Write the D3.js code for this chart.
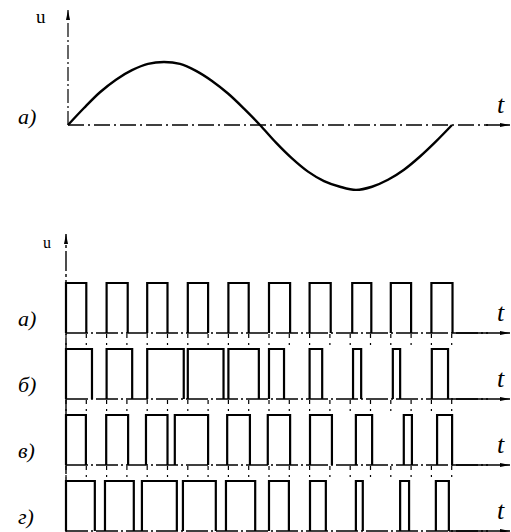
<!DOCTYPE html>
<html><head><meta charset="utf-8">
<script src="https://cdn.jsdelivr.net/npm/d3@7"></script>
<style>html,body{margin:0;padding:0;background:#fff;}svg{display:block;}</style>
</head><body>
<script>
// ---- data ----
// sine curve samples (phase in degrees, relative voltage)
const sinePhase = [0,15,30,45,60,75,90,105,120,135,150,165,180,195,210,225,240,255,270,285,300,315,330,345,360];
const sineValue = [0,0.27,0.52,0.72,0.87,0.97,1.0,0.97,0.86,0.70,0.50,0.26,0,-0.28,-0.53,-0.74,-0.89,-0.98,-1.03,-0.98,-0.87,-0.71,-0.50,-0.26,0];
// pulse trains: [start, end] in carrier periods
const rowLabels = ["а)","б)","в)","г)"];
const pulsesA = [[0,0.5],[1,1.52],[2,2.5],[3,3.5],[4,4.5],[5,5.52],[6,6.52],[7.05,7.52],[8,8.5],[9,9.52]];
const pulsesB = [[0,0.64],[1,1.63],[2,2.9],[3,3.88],[4,4.75],[5,5.37],[6,6.31],[7.07,7.27],[8.05,8.23],[9.01,9.41]];
const pulsesV = [[0,0.49],[0.99,1.53],[1.97,2.5],[2.68,3.5],[3.97,4.53],[4.97,5.52],[6.01,6.55],[7.14,7.54],[8.32,8.52],[9.14,9.51]];
const pulsesG = [[0,0.71],[0.96,1.67],[1.87,2.73],[2.88,3.69],[3.94,4.66],[5.0,5.49],[6.01,6.4],[7.14,7.31],[8.23,8.45],[9.11,9.43]];
const pulseRows = [pulsesA, pulsesB, pulsesV, pulsesG];
const gridTimes = [0,0.5,1,1.5,2,2.5,3,3.5,4,4.5,5,5.5,6,6.5,7,7.5,8,8.5,9,9.5];

const W = 511, H = 532;
const svg = d3.select("body").append("svg").attr("width", W).attr("height", H);
const defs = svg.append("defs");
defs.append("marker").attr("id","arr").attr("viewBox","0 0 10 6").attr("refX",10).attr("refY",3)
  .attr("markerWidth",12).attr("markerHeight",6).attr("markerUnits","userSpaceOnUse").attr("orient","auto")
  .append("path").attr("d","M0,1L10,3L0,5Z").attr("fill","#000");

const serif = "'Liberation Serif','DejaVu Serif',serif";

// ---- top chart ----
const xs = d3.scaleLinear().domain([0,360]).range([68,452]);
const ys = d3.scaleLinear().domain([-1,1]).range([188,62]);
const gTop = svg.append("g");
gTop.append("line").attr("x1",xs(0)).attr("x2",xs(0)).attr("y1",ys(0)).attr("y2",10)
  .attr("stroke","#000").attr("stroke-width",1.2).attr("stroke-dasharray","14,3,2,3").attr("marker-end","url(#arr)");
gTop.append("line").attr("x1",xs(0)).attr("x2",488).attr("y1",ys(0)).attr("y2",ys(0))
  .attr("stroke","#000").attr("stroke-width",1.3).attr("stroke-dasharray","16,4,2,4");
gTop.append("line").attr("x1",486).attr("x2",510).attr("y1",ys(0)).attr("y2",ys(0))
  .attr("stroke","#000").attr("stroke-width",1.5).attr("marker-end","url(#arr)");
const sinePts = sinePhase.map((p,i)=>[p,sineValue[i]]);
gTop.append("path").datum(sinePts)
  .attr("d", d3.line().x(d=>xs(d[0])).y(d=>ys(d[1])).curve(d3.curveCatmullRom))
  .attr("fill","none").attr("stroke","#000").attr("stroke-width",2.4);
gTop.append("text").attr("x",36).attr("y",23).text("u")
  .attr("font-family",serif).attr("font-size",19).attr("fill","#000");
gTop.append("text").attr("x",18).attr("y",124).text("а)")
  .attr("font-family",serif).attr("font-style","italic").attr("font-size",22).attr("fill","#000");
gTop.append("text").attr("x",497).attr("y",113).text("t")
  .attr("font-family",serif).attr("font-style","italic").attr("font-size",26).attr("fill","#000");

// ---- bottom chart ----
const xp = d3.scaleLinear().domain([0,10]).range([66,472]);
const rowBase = d3.scaleLinear().domain([0,3]).range([333,531]);
const lev = d3.scaleLinear().domain([0,1]).range([0,50]);
const gBot = svg.append("g");
// dash-dot construction lines in the gaps between rows
[0,1,2].forEach(r=>{
  gBot.selectAll(null).data(gridTimes).join("line")
    .attr("x1",d=>xp(d)).attr("x2",d=>xp(d))
    .attr("y1",rowBase(r)+1).attr("y2",rowBase(r+1)-lev(1)-1)
    .attr("stroke","#000").attr("stroke-width",1.2).attr("stroke-dasharray","4,5,2,8");
});
gBot.append("line").attr("x1",xp(0)).attr("x2",xp(0)).attr("y1",532).attr("y2",234)
  .attr("stroke","#000").attr("stroke-width",1.4).attr("stroke-dasharray","20,3,3,3").attr("marker-end","url(#arr)");
gBot.append("text").attr("x",43).attr("y",248).text("u")
  .attr("font-family",serif).attr("font-size",16).attr("fill","#000");

pulseRows.forEach((pulses,r)=>{
  const yb = rowBase(r), yt = rowBase(r) - lev(1);
  const g = gBot.append("g");
  g.append("line").attr("x1",xp(0)).attr("x2",488).attr("y1",yb).attr("y2",yb)
    .attr("stroke","#000").attr("stroke-width",1.5).attr("stroke-dasharray","22,3,2,3");
  g.append("line").attr("x1",xp(pulses[pulses.length-1][1])).attr("x2",510).attr("y1",yb).attr("y2",yb)
    .attr("stroke","#000").attr("stroke-width",1.6).attr("marker-end","url(#arr)");
  g.selectAll("path.p").data(pulses).join("path").attr("class","p")
    .attr("d",d=>`M${xp(d[0])},${yb}V${yt}H${xp(d[1])}V${yb}`)
    .attr("fill","none").attr("stroke","#000").attr("stroke-width",2.2).attr("stroke-linejoin","miter");
  g.append("text").attr("x",18).attr("y",yb-7).text(rowLabels[r])
    .attr("font-family",serif).attr("font-style","italic").attr("font-size",22).attr("fill","#000");
  g.append("text").attr("x",497).attr("y",yb-12).text("t")
    .attr("font-family",serif).attr("font-style","italic").attr("font-size",26).attr("fill","#000");
});
</script>
</body></html>
